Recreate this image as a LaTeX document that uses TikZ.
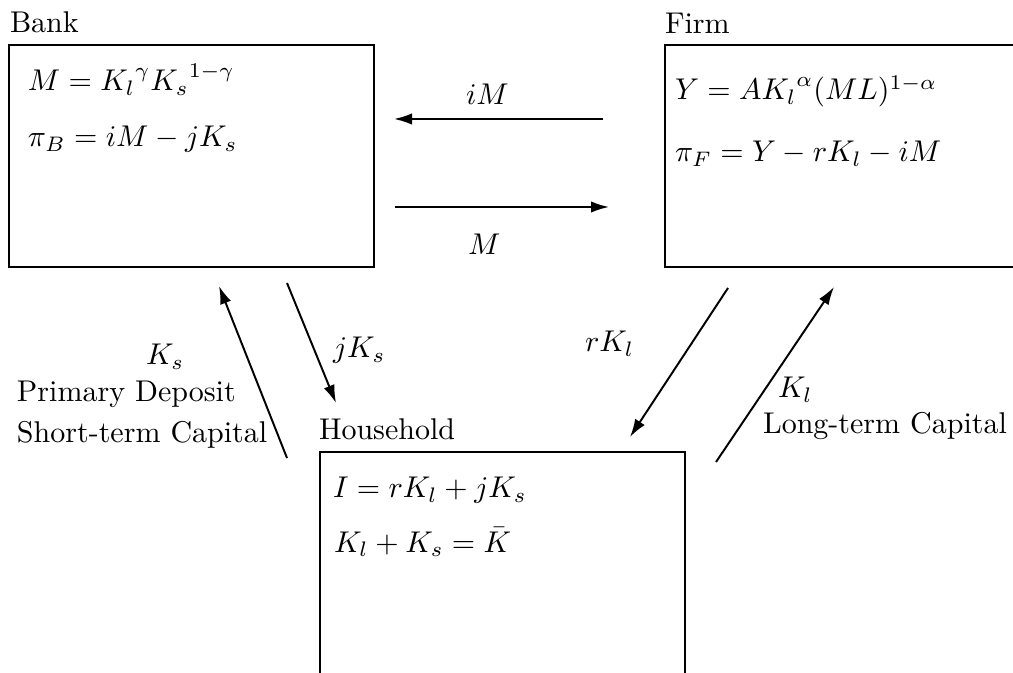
\documentclass[tikz,border=0pt]{standalone}
\usetikzlibrary{arrows.meta,fit}
\begin{document}
\begin{tikzpicture}[x=0.33333pt,y=-0.33333pt,
  box/.style={draw,line width=0.65pt,inner sep=0pt,rectangle},
  txt/.style={anchor=base west,inner sep=0pt,outer sep=0pt},
  flow/.style={line width=0.65pt,-{Latex[length=6pt,width=3.8pt]}}]
\useasboundingbox (0,0) rectangle (1013,673);
\clip (0,0) rectangle (1013,673);
% boxes
\node[box,fit={(9,45) (374,267)}] (bank) {};
\node[box,fit={(665,45) (1030,267)}] (firm) {};
\node[box,fit={(320,452) (685,690)}] (house) {};
% titles
\node[txt] (bankt) at (10,33) {Bank};
\node[txt] (firmt) at (665,34) {Firm};
\node[txt] (houset) at (319,440) {Household};
% equations
\node[txt] (beq1) at (28,91) {$M={K_l}^{\gamma}{K_s}^{1-\gamma}$};
\node[txt] (beq2) at (28,147) {$\pi_B=iM-jK_s$};
\node[txt] (feq1) at (675,100) {$Y=A{K_l}^{\alpha}(ML)^{1-\alpha}$};
\node[txt] (feq2) at (675,162) {$\pi_F=Y-rK_l-iM$};
\node[txt] (heq1) at (333,498) {$I=rK_l+jK_s$};
\node[txt] (heq2) at (334,552) {$K_l+K_s=\bar{K}$};
% arrow end points
\coordinate (a1s) at (603,119); \coordinate (a1e) at (394,119);
\coordinate (a2s) at (395,207); \coordinate (a2e) at (609,207);
\coordinate (a3s) at (287,458); \coordinate (a3e) at (219,286);
\coordinate (a4s) at (287,283); \coordinate (a4e) at (336,403);
\coordinate (a5s) at (728,288); \coordinate (a5e) at (630,437);
\coordinate (a6s) at (716,462); \coordinate (a6e) at (834,287);
\draw[flow] (a1s) -- (a1e);
\draw[flow] (a2s) -- (a2e);
\draw[flow] (a3s) -- (a3e);
\draw[flow] (a4s) -- (a4e);
\draw[flow] (a5s) -- (a5e);
\draw[flow] (a6s) -- (a6e);
% labels
\node[txt] (l1) at (466,105) {$iM$};
\node[txt] (l2) at (468,255) {$M$};
\node[txt] (l3) at (146,365) {$K_s$};
\node[txt] (l3b) at (17,402) {Primary Deposit};
\node[txt] (l3c) at (17,442) {Short-term Capital};
\node[txt] (l4) at (333,358) {$jK_s$};
\node[txt] (l5) at (585,352) {$rK_l$};
\node[txt] (l6) at (778,398) {$K_l$};
\node[txt] (l6b) at (763,433) {Long-term Capital};
\end{tikzpicture}
\end{document}
